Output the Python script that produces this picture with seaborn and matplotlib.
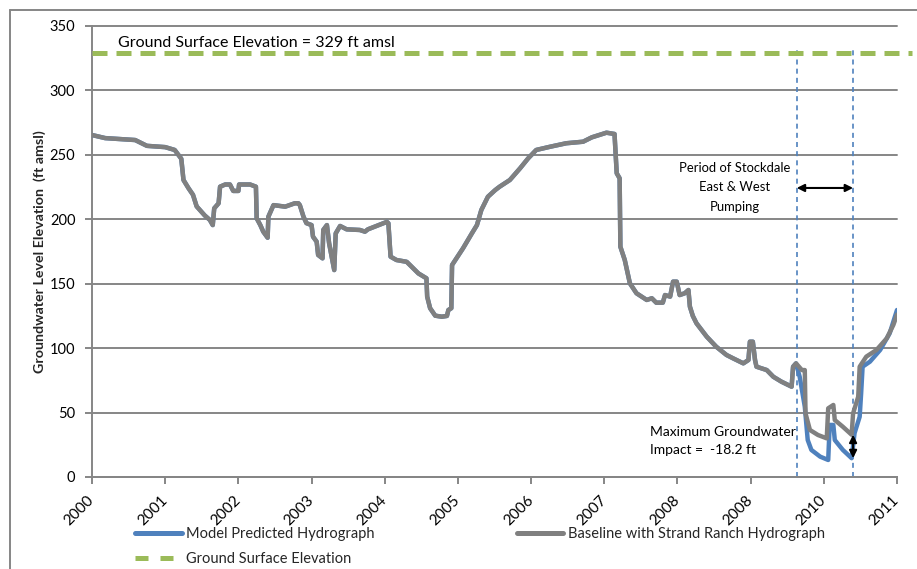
import numpy as np
import pandas as pd
import matplotlib
matplotlib.use("Agg")
import matplotlib.pyplot as plt
from matplotlib.lines import Line2D
import seaborn as sns

# Baseline with Strand Ranch hydrograph (decimal year, ft amsl)
baseline_year = [
    2000.00, 2000.18, 2000.59, 2000.75, 2001.00, 2001.13, 2001.22, 2001.25, 2001.32, 2001.38,
    2001.43, 2001.54, 2001.61, 2001.65, 2001.67, 2001.73, 2001.75, 2001.82, 2001.885, 2001.93,
    2002.00, 2002.01, 2002.16, 2002.24, 2002.25, 2002.30, 2002.34, 2002.40, 2002.41, 2002.48,
    2002.64, 2002.77, 2002.82, 2002.84, 2002.89, 2002.93, 2003.00, 2003.02, 2003.07, 2003.09,
    2003.15, 2003.16, 2003.21, 2003.24, 2003.31, 2003.33, 2003.39, 2003.48, 2003.66, 2003.73,
    2003.77, 2004.03, 2004.05, 2004.08, 2004.16, 2004.30, 2004.39, 2004.46, 2004.57, 2004.58,
    2004.62, 2004.69, 2004.78, 2004.85, 2004.87, 2004.91, 2004.92, 2004.98, 2005.07, 2005.19,
    2005.26, 2005.32, 2005.41, 2005.51, 2005.57, 2005.71, 2005.85, 2005.96, 2006.07, 2006.26,
    2006.48, 2006.71, 2006.83, 2007.03, 2007.14, 2007.17, 2007.21, 2007.22, 2007.28, 2007.35,
    2007.44, 2007.58, 2007.65, 2007.71, 2007.80, 2007.83, 2007.90, 2007.94, 2007.99, 2008.03,
    2008.10, 2008.15, 2008.17, 2008.21, 2008.26, 2008.40, 2008.53, 2008.67, 2008.76, 2008.90,
    2008.97, 2008.99, 2009.03, 2009.06, 2009.08, 2009.22, 2009.31, 2009.42, 2009.56, 2009.58,
    2009.62, 2009.70, 2009.74, 2009.75, 2009.81, 2009.92, 2010.04, 2010.06, 2010.13, 2010.15,
    2010.26, 2010.38, 2010.40, 2010.47, 2010.49, 2010.58, 2010.72, 2010.86, 2010.95, 2011.00,
]
baseline_elev = [
    265.4, 263.0, 261.5, 257.0, 256.0, 253.8, 247.0, 230.5, 224.0, 219.0,
    210.0, 203.0, 199.5, 195.5, 208.5, 212.4, 225.3, 227.0, 227.0, 222.0,
    222.0, 227.0, 227.0, 225.3, 200.8, 195.5, 190.4, 185.7, 202.0, 211.0,
    209.8, 212.4, 212.4, 211.0, 202.0, 197.0, 195.5, 186.5, 182.6, 172.3,
    169.7, 191.7, 195.5, 181.4, 160.6, 189.0, 194.8, 192.2, 191.7, 190.4,
    192.2, 198.0, 196.9, 171.0, 168.4, 167.0, 162.0, 158.0, 154.2, 140.0,
    131.0, 125.2, 124.4, 125.0, 129.6, 131.0, 164.5, 169.7, 177.5, 189.0,
    195.5, 207.2, 217.5, 222.7, 225.3, 230.5, 239.6, 247.3, 253.8, 256.3,
    259.0, 260.2, 263.6, 267.2, 266.2, 235.7, 231.8, 178.7, 168.4, 150.3,
    142.6, 137.4, 138.7, 135.3, 135.3, 141.2, 140.0, 151.6, 151.6, 141.2,
    142.6, 145.1, 132.2, 125.0, 119.3, 108.9, 101.1, 94.7, 92.1, 88.2,
    90.8, 105.0, 105.0, 90.8, 85.6, 83.0, 77.8, 74.0, 70.1, 85.6,
    88.2, 83.0, 83.0, 49.4, 36.5, 32.6, 30.0, 53.3, 55.9, 44.2,
    39.0, 32.8, 49.4, 62.3, 85.6, 93.4, 98.6, 107.6, 118.0, 126.0,
]

# Model predicted hydrograph: follows the baseline until pumping starts
divergence_year = 2009.62
model_year_after = [
    2009.67, 2009.74, 2009.78, 2009.83, 2009.95, 2010.06, 2010.08, 2010.13, 2010.15, 2010.26,
    2010.38, 2010.42, 2010.49, 2010.51, 2010.53, 2010.63, 2010.77, 2010.90, 2011.00,
]
model_elev_after = [
    77.8, 54.6, 28.7, 21.0, 15.8, 13.2, 40.4, 40.4, 28.7, 21.0,
    14.6, 34.0, 46.8, 65.0, 85.6, 89.5, 98.6, 111.5, 129.6,
]

ground_elev = 329
ground_span = [2000.0, 2011.2]
pump_start = 2009.63
pump_end = 2010.40
impact_year = 2010.38
impact_ft = -18.2

tick_years = list(range(2000, 2012))
tick_labels = ["2000", "2001", "2002", "2003", "2004", "2005", "2006",
               "2007", "2008", "2008", "2010", "2011"]
y_ticks = list(range(0, 351, 50))

BLUE = "#4F81BD"
GRAY = "#808080"
GREEN = "#9BBB59"
AXIS = "#868686"

baseline = pd.DataFrame({"year": baseline_year, "elev": baseline_elev})
keep = baseline["year"] <= divergence_year
model = pd.concat([
    baseline[keep],
    pd.DataFrame({"year": model_year_after, "elev": model_elev_after}),
], ignore_index=True)
ground = pd.DataFrame({"year": ground_span, "elev": [ground_elev] * 2})

sns.set_theme(style="white")
plt.rcParams["font.family"] = ["Lato", "DejaVu Sans"]

fig = plt.figure(figsize=(9.17, 5.69), dpi=100)
ax = fig.add_axes([92 / 917, 1 - 477 / 569, (897 - 92) / 917, (477 - 26) / 569])

sns.lineplot(data=model, x="year", y="elev", ax=ax, color=BLUE, linewidth=3.2,
             sort=False, estimator=None, legend=False, zorder=3)
sns.lineplot(data=baseline, x="year", y="elev", ax=ax, color=GRAY, linewidth=3.2,
             sort=False, estimator=None, legend=False, zorder=4)
sns.lineplot(data=ground, x="year", y="elev", ax=ax, color=GREEN, linewidth=3.6,
             linestyle=(0, (3.0, 1.8)), sort=False, estimator=None, legend=False,
             clip_on=False, zorder=5)

# pumping period boundaries
for xv in (pump_start, pump_end):
    ax.plot([xv, xv], [0, 334], color=BLUE, linewidth=1.2,
            linestyle=(0, (3.0, 2.5)), zorder=2)

ax.set_xlim(2000, 2011)
ax.set_ylim(0, 350)
ax.set_xticks(tick_years)
ax.set_xticklabels(tick_labels, rotation=45, ha="right", va="center",
                   rotation_mode="anchor", fontsize=11)
ax.set_yticks(y_ticks)
ax.set_xlabel("")
ax.set_ylabel("Groundwater Level Elevation  (ft amsl)", fontsize=10.3,
              fontweight="bold", labelpad=3)
ax.yaxis.grid(True, color=AXIS, linewidth=1.4)
ax.xaxis.grid(False)
ax.set_axisbelow(True)
for side in ("top", "right"):
    ax.spines[side].set_visible(False)
for side in ("left", "bottom"):
    ax.spines[side].set_color(AXIS)
    ax.spines[side].set_linewidth(1.4)
ax.tick_params(axis="both", direction="out", length=5, width=1.4, color=AXIS,
               labelcolor="black", bottom=True, left=True)
ax.tick_params(axis="y", pad=7, labelsize=10.5)
ax.tick_params(axis="x", pad=10)
for gl in ax.get_ygridlines():
    gl.set_clip_on(False)

# annotations
ax.text(2000.355, 337, f"Ground Surface Elevation = {ground_elev} ft amsl",
        ha="left", va="center", fontsize=11.5, color="black")
ax.text(2008.78, 225, "Period of Stockdale\nEast & West\nPumping",
        ha="center", va="center", fontsize=9.4, linespacing=1.75, color="black")
ax.annotate("", xy=(pump_end, 224.3), xytext=(pump_start, 224.3),
            arrowprops=dict(arrowstyle="<|-|>", color="black", lw=1.5,
                            shrinkA=0, shrinkB=0, mutation_scale=11))

base_at_impact = float(np.interp(impact_year, baseline_year, baseline_elev))
ax.annotate("", xy=(pump_end, base_at_impact + impact_ft), xytext=(pump_end, base_at_impact),
            arrowprops=dict(arrowstyle="<|-|>", color="black", lw=1.5,
                            shrinkA=0, shrinkB=0, mutation_scale=11), zorder=6)
ax.text(2007.62, 28, f"Maximum Groundwater\nImpact =  {impact_ft} ft",
        ha="left", va="center", fontsize=10, linespacing=1.6, color="black")

# legend
handles = [
    Line2D([], [], color=BLUE, linewidth=3.6),
    Line2D([], [], color=GREEN, linewidth=3.6, linestyle=(0, (2.6, 2.4))),
    Line2D([], [], color=GRAY, linewidth=3.6),
]
labels = ["Model Predicted Hydrograph", "Ground Surface Elevation",
          "Baseline with Strand Ranch Hydrograph"]
fig.legend(handles, labels, ncol=2, loc="upper left",
           bbox_to_anchor=(135 / 917, 1 - 527 / 569), frameon=False,
           fontsize=10.5, handlelength=3.2, handletextpad=0.3,
           columnspacing=9.75, labelspacing=0.75, borderpad=0, borderaxespad=0)

# chart frame
fig.add_artist(Line2D([10 / 917, 10 / 917], [0, 1 - 10 / 569], transform=fig.transFigure,
                      color=AXIS, linewidth=1.4))
fig.add_artist(Line2D([10 / 917, 1], [1 - 10 / 569, 1 - 10 / 569], transform=fig.transFigure,
                      color=AXIS, linewidth=1.4))

fig.savefig("out.png", dpi=100)
